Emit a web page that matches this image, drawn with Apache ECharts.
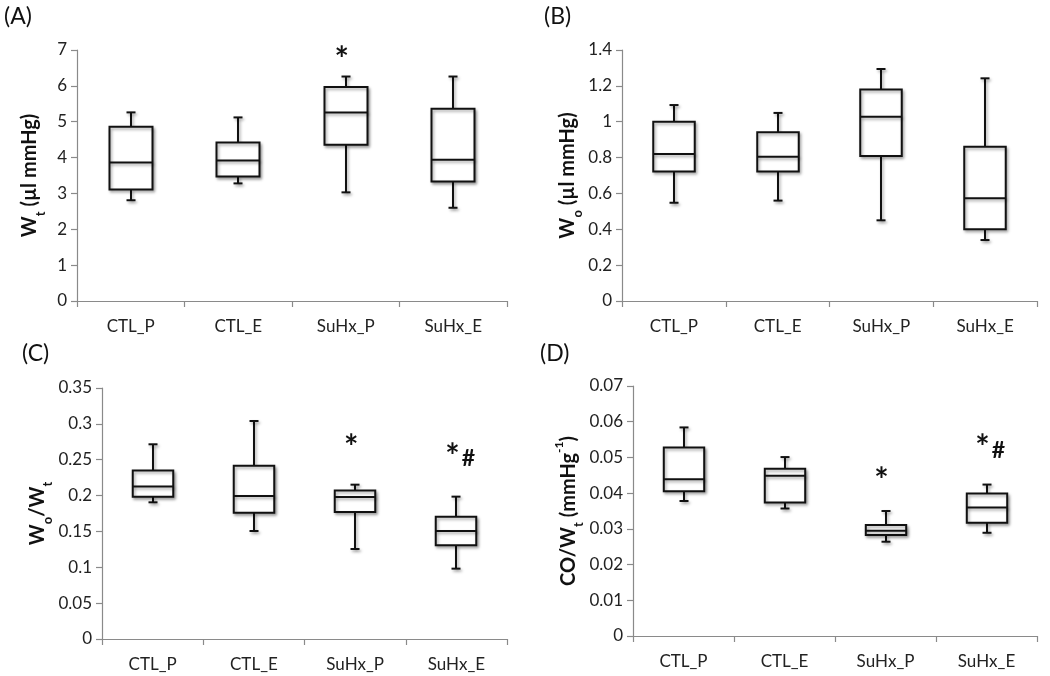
<!DOCTYPE html>
<html>
<head>
<meta charset="utf-8">
<script src="https://cdn.jsdelivr.net/npm/echarts@6/dist/echarts.min.js"></script>
<style>
html,body{margin:0;padding:0;background:#fff;}
#c{width:1050px;height:676px;}
</style>
</head>
<body>
<div id="c"></div>
<script>
// ---- data ----
const categories = ['CTL_P', 'CTL_E', 'SuHx_P', 'SuHx_E'];
// five-number summaries per group: [min, q1, median, q3, max]
const wtBoxes = [
  [2.81, 3.11, 3.86, 4.86, 5.26],
  [3.28, 3.47, 3.92, 4.42, 5.12],
  [3.03, 4.36, 5.26, 5.97, 6.26],
  [2.60, 3.33, 3.94, 5.36, 6.26]
];
const woBoxes = [
  [0.548, 0.723, 0.820, 1.000, 1.093],
  [0.560, 0.723, 0.805, 0.941, 1.049],
  [0.450, 0.809, 1.028, 1.179, 1.294],
  [0.340, 0.400, 0.573, 0.861, 1.242]
];
const ratioBoxes = [
  [0.1906, 0.1985, 0.2125, 0.2348, 0.2715],
  [0.1506, 0.1762, 0.1994, 0.2417, 0.3040],
  [0.1255, 0.1771, 0.1980, 0.2069, 0.2152],
  [0.0981, 0.1306, 0.1506, 0.1706, 0.1985]
];
const coBoxes = [
  [0.0378, 0.0405, 0.0439, 0.0528, 0.0584],
  [0.0357, 0.0374, 0.0449, 0.0468, 0.0501],
  [0.0264, 0.0283, 0.0295, 0.0311, 0.0350],
  [0.0289, 0.0317, 0.0360, 0.0399, 0.0424]
];
// significance marks: [category index, value level, text]
const wtMarks = [[2, 6.95, '*']];
const woMarks = [];
const ratioMarks = [[2, 0.278, '*'], [3, 0.265, '*#']];
const coMarks = [[2, 0.0456, '*'], [3, 0.0548, '*#']];
// axis ranges: [min, max, interval]
const wtAxis = [0, 7, 1];
const woAxis = [0, 1.4, 0.2];
const ratioAxis = [0, 0.35, 0.05];
const coAxis = [0, 0.07, 0.01];

// ---- chart ----
const chart = echarts.init(document.getElementById('c'), null, {renderer: 'canvas'});
const FONT = 'Lato';
const AXIS_GRAY = '#8a8a8a';

const grids = [
  {left: 77, top: 50, width: 430, height: 251},
  {left: 622, top: 50, width: 415, height: 251},
  {left: 102, top: 388, width: 405, height: 251},
  {left: 633, top: 386, width: 404, height: 250}
];

const richTitle = {
  b: {fontFamily: FONT, fontWeight: 'bold', fontSize: 20, color: '#111', lineHeight: 26, verticalAlign: 'middle'},
  sub: {fontFamily: FONT, fontWeight: 'bold', fontSize: 13, color: '#111', lineHeight: 26, verticalAlign: 'bottom', padding: [0, 0, -4, 0]},
  sup: {fontFamily: FONT, fontWeight: 'bold', fontSize: 12, color: '#111', lineHeight: 26, verticalAlign: 'top', padding: [-2, 0, 0, 0]}
};

const yNames = [
  '{b|W}{sub|t}{b| (µl mmHg)}',
  '{b|W}{sub|o}{b| (µl mmHg)}',
  '{b|W}{sub|o}{b|/W}{sub|t}',
  '{b|CO/W}{sub|t}{b| (mmHg}{sup|-1}{b|)}'
];
const yGaps = [34, 40, 48, 50];
const axesCfg = [wtAxis, woAxis, ratioAxis, coAxis];
const boxesList = [wtBoxes, woBoxes, ratioBoxes, coBoxes];
const marksList = [wtMarks, woMarks, ratioMarks, coMarks];

function renderBox(params, api) {
  const i = api.value(0);
  const pMin = api.coord([i, api.value(1)]);
  const pQ1 = api.coord([i, api.value(2)]);
  const pMed = api.coord([i, api.value(3)]);
  const pQ3 = api.coord([i, api.value(4)]);
  const pMax = api.coord([i, api.value(5)]);
  const bw = api.size([1, 0])[0] * 0.4;
  const cx = Math.round(pMed[0]);
  const cap = 4.5;
  const st = {stroke: '#111', lineWidth: 2, fill: null,
    shadowBlur: 3, shadowOffsetX: 1.5, shadowOffsetY: 2, shadowColor: 'rgba(0,0,0,0.35)'};
  return {
    type: 'group',
    children: [
      {type: 'line', shape: {x1: cx, y1: pQ3[1], x2: cx, y2: pMax[1]}, style: st},
      {type: 'line', shape: {x1: cx - cap, y1: pMax[1], x2: cx + cap, y2: pMax[1]}, style: st},
      {type: 'line', shape: {x1: cx, y1: pQ1[1], x2: cx, y2: pMin[1]}, style: st},
      {type: 'line', shape: {x1: cx - cap, y1: pMin[1], x2: cx + cap, y2: pMin[1]}, style: st},
      {type: 'rect', shape: {x: cx - bw / 2, y: pQ3[1], width: bw, height: pQ1[1] - pQ3[1]},
        style: {stroke: '#111', lineWidth: 2, fill: '#fff',
          shadowBlur: 3, shadowOffsetX: 1.5, shadowOffsetY: 2, shadowColor: 'rgba(0,0,0,0.35)'}},
      {type: 'line', shape: {x1: cx - bw / 2, y1: pMed[1], x2: cx + bw / 2, y2: pMed[1]}, style: st}
    ]
  };
}

function renderMark(params, api) {
  const p = api.coord([api.value(0), api.value(1)]);
  const txt = marksData[params.seriesIndex][params.dataIndex][2];
  const sx = p[0] - 4;
  const children = [
    {type: 'text', x: sx, y: p[1] + 8, style: {text: '*', fontFamily: FONT, fontWeight: 'bold', fontSize: 34, fill: '#111', align: 'center', verticalAlign: 'middle'}}
  ];
  if (txt.indexOf('#') >= 0) {
    children.push({type: 'text', x: sx + 16, y: p[1] + 10, style: {text: '#', fontFamily: FONT, fontWeight: 'bold', fontSize: 23, fill: '#111', align: 'center', verticalAlign: 'middle'}});
  }
  return {type: 'group', children: children};
}

const marksData = {};
const xAxes = [], yAxes = [], series = [];
for (let k = 0; k < 4; k++) {
  xAxes.push({
    type: 'category', gridIndex: k, data: categories, boundaryGap: true,
    axisLine: {lineStyle: {color: AXIS_GRAY, width: 1.2}},
    axisTick: {show: true, length: 6, lineStyle: {color: AXIS_GRAY, width: 1.2}},
    axisLabel: {fontFamily: FONT, fontSize: 17, color: '#222', margin: 17}
  });
  const ax = axesCfg[k];
  yAxes.push({
    type: 'value', gridIndex: k, min: ax[0], max: ax[1], interval: ax[2],
    name: yNames[k], nameLocation: 'middle', nameGap: yGaps[k], nameRotate: 90,
    nameTextStyle: {rich: richTitle},
    axisLine: {show: true, lineStyle: {color: AXIS_GRAY, width: 1.2}},
    axisTick: {show: true, length: 6, lineStyle: {color: AXIS_GRAY, width: 1.2}},
    splitLine: {show: false},
    axisLabel: {fontFamily: FONT, fontSize: 17, color: '#222', margin: 10}
  });
  series.push({
    type: 'custom', xAxisIndex: k, yAxisIndex: k, renderItem: renderBox,
    clip: false,
    data: boxesList[k].map((b, i) => [i].concat(b))
  });
  const mi = series.length;
  marksData[mi] = marksList[k];
  series.push({
    type: 'custom', xAxisIndex: k, yAxisIndex: k, renderItem: renderMark,
    clip: false,
    data: marksList[k].map(m => [m[0], m[1]])
  });
}

const panelLabels = [['(A)', 4, 5], ['(B)', 544, 5], ['(C)', 22, 342], ['(D)', 540, 342]];

chart.setOption({
  animation: false,
  backgroundColor: '#fff',
  grid: grids,
  xAxis: xAxes,
  yAxis: yAxes,
  series: series,
  graphic: panelLabels.map(p => ({
    type: 'text', left: p[1], top: p[2],
    style: {text: p[0], fontFamily: FONT, fontSize: 23, fill: '#111'}
  }))
});
</script>
</body>
</html>
